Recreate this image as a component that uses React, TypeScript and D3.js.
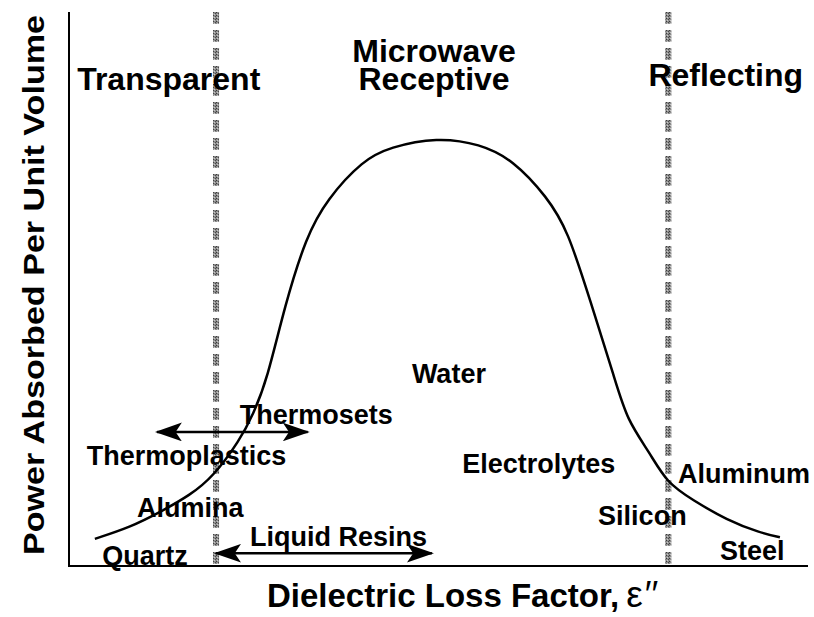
import React from 'react';
import * as d3 from 'd3';

// Power absorbed vs. dielectric loss factor (arbitrary units, 0..10 on both axes)
const curveLoss = [0.35, 0.83, 1.23, 1.64, 1.95, 2.31, 2.49, 2.68, 2.92, 3.21, 3.49, 3.98, 4.34, 4.98, 5.56, 6.01, 6.47, 6.75, 7.05, 7.39, 7.55, 7.86, 8.09, 8.44, 8.9, 9.35, 9.62];
const curvePower = [0.49, 0.7, 0.97, 1.28, 1.61, 2.27, 2.73, 3.36, 4.7, 5.95, 6.62, 7.33, 7.56, 7.74, 7.62, 7.33, 6.66, 6.06, 4.8, 3.36, 2.64, 2.04, 1.5, 1.19, 0.83, 0.6, 0.52];

// region boundaries (transparent | receptive | reflecting)
const boundaries = [1.99, 8.11];

// region headings
const regionNames = ['Transparent', 'Microwave', 'Receptive', 'Reflecting'];
const regionX = [0.11, 4.94, 4.94, 7.84];
const regionY = [8.59, 9.1, 8.59, 8.66];

// materials
const materials = ['Thermosets', 'Thermoplastics', 'Alumina', 'Quartz', 'Liquid Resins', 'Water', 'Electrolytes', 'Aluminum', 'Silicon', 'Steel'];
const materialX = [2.31, 0.24, 0.92, 0.45, 2.45, 4.64, 5.32, 8.24, 7.16, 8.81];
const materialY = [2.56, 1.82, 0.88, 0.02, 0.36, 3.3, 1.68, 1.5, 0.74, 0.11];

// double-headed range arrows
const arrowFrom = [1.19, 1.99];
const arrowTo = [3.23, 4.91];
const arrowLevel = [2.42, 0.23];

const W = 814;
const H = 617;
const FONT = '"Liberation Sans", Arial, Helvetica, sans-serif';

export default function App() {
  const x = d3.scaleLinear().domain([0, 10]).range([69, 808]);
  const y = d3.scaleLinear().domain([0, 10]).range([566, 12]);

  const pts = curveLoss.map((v, i) => [v, curvePower[i]] as [number, number]);
  const line = d3.line<[number, number]>()
    .x(d => x(d[0]))
    .y(d => y(d[1]))
    .curve(d3.curveBasis);

  return (
    <svg width={W} height={H} style={{ position: 'absolute', left: 0, top: 0, background: '#fff' }} fontFamily={FONT}>
      <defs>
        <pattern id="stipple" width="3" height="3" patternUnits="userSpaceOnUse">
          <rect width="3" height="3" fill="#8c8c8c" />
          <rect width="1" height="1" fill="#3a3a3a" />
          <rect x="2" y="1" width="1" height="1" fill="#4a4a4a" />
          <rect x="1" y="2" width="1" height="1" fill="#c8c8c8" />
        </pattern>
        <marker id="head" viewBox="0 0 26 18" refX="24" refY="9" markerWidth="27" markerHeight="19" markerUnits="userSpaceOnUse" orient="auto-start-reverse">
          <path d="M0,0 L26,9 L0,18 L6,9 Z" fill="#000" />
        </marker>
      </defs>

      {/* axes */}
      <line x1={x(0)} x2={x(0)} y1={y(10)} y2={y(0) + 1} stroke="#000" strokeWidth={2} />
      <line x1={x(0) - 1} x2={x(10)} y1={y(0)} y2={y(0)} stroke="#000" strokeWidth={2} />

      {/* region boundaries */}
      {boundaries.map((b, i) => (
        <line key={i} x1={x(b)} x2={x(b)} y1={y(10)} y2={y(0)} stroke="url(#stipple)" strokeWidth={6} strokeDasharray="12 6" />
      ))}

      {/* absorption curve */}
      <path d={line(pts) || ''} fill="none" stroke="#000" strokeWidth={2.5} />

      {/* range arrows */}
      {arrowFrom.map((a, i) => (
        <line key={i} x1={x(a)} x2={x(arrowTo[i])} y1={y(arrowLevel[i])} y2={y(arrowLevel[i])}
          stroke="#000" strokeWidth={2.5} markerStart="url(#head)" markerEnd="url(#head)" />
      ))}

      {/* headings */}
      {regionNames.map((t, i) => (
        <text key={t} x={x(regionX[i])} y={y(regionY[i])} fontSize={32} fontWeight="bold"
          textAnchor={i === 1 || i === 2 ? 'middle' : 'start'}>{t}</text>
      ))}

      {/* materials */}
      {materials.map((t, i) => (
        <text key={t} x={x(materialX[i])} y={y(materialY[i])} fontSize={27} fontWeight="bold">{t}</text>
      ))}

      {/* axis titles */}
      <text x={267} y={607} fontSize={33} fontWeight="bold">
        Dielectric Loss Factor,
        <tspan dx={7} fontWeight="normal" fontSize={37}>{'\u03B5'}</tspan>
        <tspan dx={2} fontWeight="normal" fontSize={36}>{'\u2032\u2032'}</tspan>
      </text>
      <text transform={`translate(44,${(y(0) + y(10)) / 2 - 4}) rotate(-90)`} textAnchor="middle" fontSize={30} fontWeight="bold"
        textLength={540} lengthAdjust="spacingAndGlyphs">
        Power Absorbed Per Unit Volume
      </text>
    </svg>
  );
}
